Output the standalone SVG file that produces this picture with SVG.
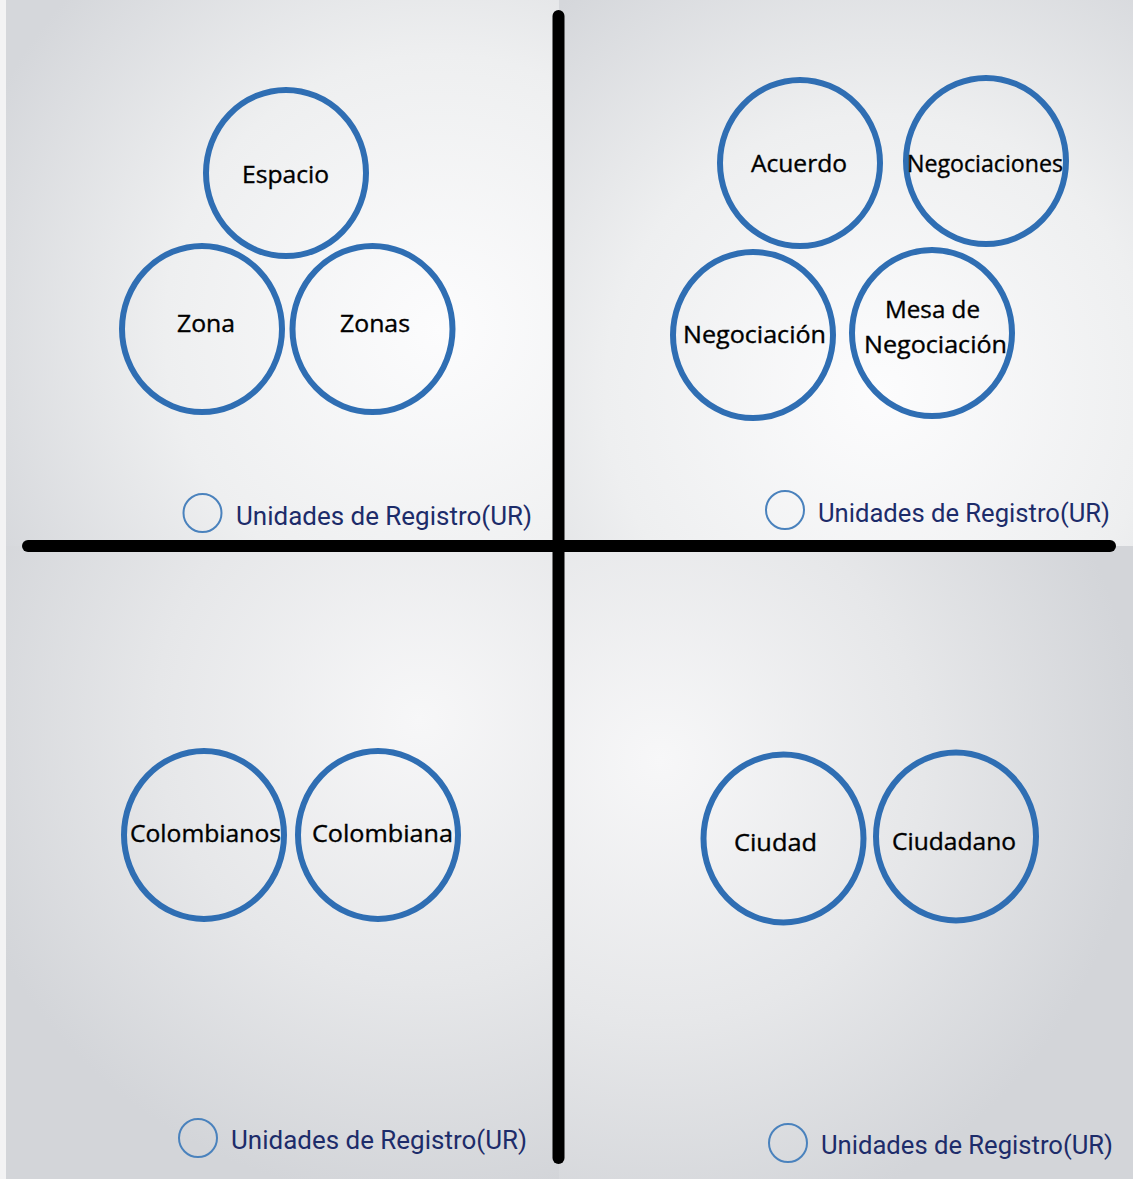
<svg xmlns="http://www.w3.org/2000/svg" width="1133" height="1179" viewBox="0 0 1133 1179">
<defs>
<radialGradient id="gTL" gradientUnits="userSpaceOnUse" cx="440" cy="330" r="500">
<stop offset="0" stop-color="#fcfcfd"/><stop offset="0.55" stop-color="#eeeff0"/><stop offset="1" stop-color="#d5d7db"/>
</radialGradient>
<radialGradient id="gTR" gradientUnits="userSpaceOnUse" cx="880" cy="390" r="500">
<stop offset="0" stop-color="#fcfcfd"/><stop offset="0.55" stop-color="#eeeff0"/><stop offset="1" stop-color="#d5d7db"/>
</radialGradient>
<radialGradient id="gBL" gradientUnits="userSpaceOnUse" cx="420" cy="720" r="480">
<stop offset="0" stop-color="#f7f7f8"/><stop offset="0.55" stop-color="#e6e7e9"/><stop offset="1" stop-color="#d3d5d9"/>
</radialGradient>
<radialGradient id="gBR" gradientUnits="userSpaceOnUse" cx="660" cy="760" r="480">
<stop offset="0" stop-color="#f7f7f8"/><stop offset="0.55" stop-color="#e6e7e9"/><stop offset="1" stop-color="#d3d5d9"/>
</radialGradient>
</defs>
<style>
.node ellipse{fill:none;stroke:#2f6eb3;stroke-width:6}
.node text{font-family:"Open Sans","Liberation Sans",sans-serif;font-size:23px;fill:#000;stroke:#000;stroke-width:0.35;text-anchor:middle}
.legend circle{fill:none;stroke:#4a82bd;stroke-width:2}
.legend text{font-family:Roboto,"Liberation Sans",sans-serif;font-size:26px;fill:#1d2c6a}
.axis line{stroke:#000;stroke-width:12;stroke-linecap:round}
</style>
<rect x="0" y="0" width="559" height="546" fill="url(#gTL)"/>
<rect x="559" y="0" width="574" height="546" fill="url(#gTR)"/>
<rect x="0" y="546" width="559" height="633" fill="url(#gBL)"/>
<rect x="559" y="546" width="574" height="633" fill="url(#gBR)"/>
<rect x="0" y="0" width="6" height="1179" fill="#f3f3f4"/>

<g id="connectors" class="axis">
<line x1="558.5" y1="16" x2="558.5" y2="1158"/>
<line x1="28" y1="546" x2="1110" y2="546"/>
</g>

<g id="n-espacio" class="node"><ellipse cx="286" cy="173" rx="80" ry="83"/><text x="285.5" y="183" textLength="87" lengthAdjust="spacingAndGlyphs">Espacio</text></g>
<g id="n-zona" class="node"><ellipse cx="202" cy="329" rx="80" ry="83"/><text x="206" y="332" textLength="58" lengthAdjust="spacingAndGlyphs">Zona</text></g>
<g id="n-zonas" class="node"><ellipse cx="372.5" cy="329" rx="80" ry="83"/><text x="375" y="332" textLength="70" lengthAdjust="spacingAndGlyphs">Zonas</text></g>

<g id="n-acuerdo" class="node"><ellipse cx="800" cy="163" rx="80" ry="83"/><text x="799" y="172" textLength="96" lengthAdjust="spacingAndGlyphs">Acuerdo</text></g>
<g id="n-negociaciones" class="node"><ellipse cx="986" cy="161" rx="80" ry="83"/><text x="985" y="172" textLength="156" lengthAdjust="spacingAndGlyphs">Negociaciones</text></g>
<g id="n-negociacion" class="node"><ellipse cx="753" cy="335" rx="80" ry="83"/><text x="754.5" y="343" textLength="143" lengthAdjust="spacingAndGlyphs">Negociación</text></g>
<g id="n-mesa" class="node"><ellipse cx="932" cy="333" rx="80" ry="83"/><text x="932.5" y="318" textLength="95" lengthAdjust="spacingAndGlyphs">Mesa de</text><text x="935.5" y="353" textLength="143" lengthAdjust="spacingAndGlyphs">Negociación</text></g>

<g id="n-colombianos" class="node"><ellipse cx="204" cy="835" rx="80" ry="84"/><text x="205.5" y="842" textLength="151" lengthAdjust="spacingAndGlyphs">Colombianos</text></g>
<g id="n-colombiana" class="node"><ellipse cx="378" cy="835" rx="80" ry="84"/><text x="382.5" y="842" textLength="141" lengthAdjust="spacingAndGlyphs">Colombiana</text></g>

<g id="n-ciudad" class="node"><ellipse cx="783.5" cy="838.5" rx="80" ry="84"/><text x="775.5" y="851" textLength="83" lengthAdjust="spacingAndGlyphs">Ciudad</text></g>
<g id="n-ciudadano" class="node"><ellipse cx="956" cy="836.5" rx="80" ry="84"/><text x="954" y="850" textLength="124" lengthAdjust="spacingAndGlyphs">Ciudadano</text></g>

<g id="legend-tl" class="legend"><circle cx="202.5" cy="513" r="19"/><text x="236" y="525" textLength="296" lengthAdjust="spacingAndGlyphs">Unidades de Registro(UR)</text></g>
<g id="legend-tr" class="legend"><circle cx="785" cy="510" r="19"/><text x="818" y="522" textLength="292" lengthAdjust="spacingAndGlyphs">Unidades de Registro(UR)</text></g>
<g id="legend-bl" class="legend"><circle cx="198" cy="1138" r="19"/><text x="231" y="1149" textLength="296" lengthAdjust="spacingAndGlyphs">Unidades de Registro(UR)</text></g>
<g id="legend-br" class="legend"><circle cx="788" cy="1143" r="19"/><text x="821" y="1154" textLength="292" lengthAdjust="spacingAndGlyphs">Unidades de Registro(UR)</text></g>
</svg>
